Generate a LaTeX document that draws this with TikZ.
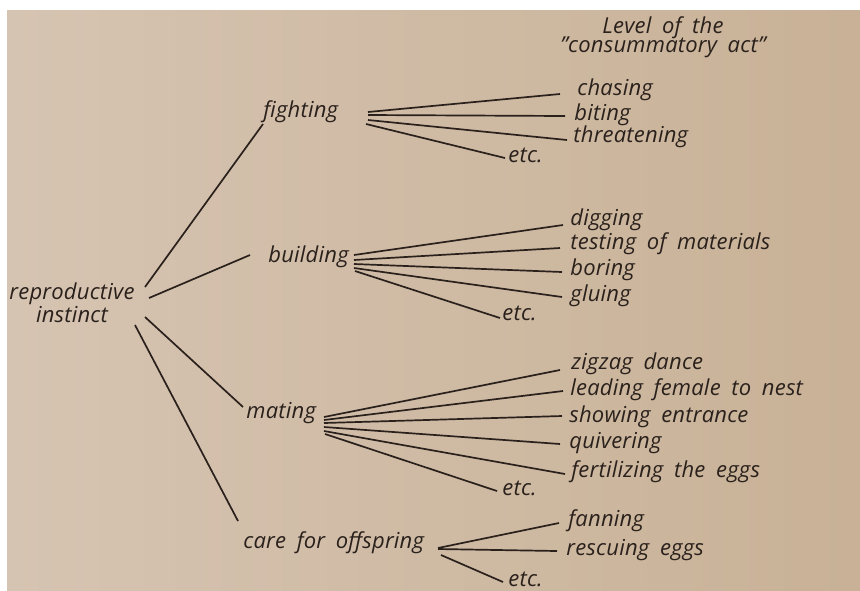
\documentclass[tikz,border=0pt]{standalone}
\usepackage{fontspec}
\setmainfont{Open Sans}[WordSpace=1.8,LetterSpace=1]
\usetikzlibrary{positioning,calc}
\definecolor{paperl}{RGB}{214,196,178}
\definecolor{paperr}{RGB}{200,177,150}
\definecolor{ink}{RGB}{42,33,28}
\tikzstyle{act}=[anchor=west,inner sep=0pt,text=ink,font=\itshape\fontsize{11}{11.5}\selectfont]
\tikzstyle{branch}=[draw=ink,line width=0.85pt]

\begin{document}
\begin{tikzpicture}[x=0.5pt,y=-0.5pt]
  \useasboundingbox (0,0) rectangle (860,590);
  \fill [white] (0,0) rectangle (860,590);
  \shade [left color=paperl,right color=paperr] (7,10) rectangle (860,590);

  % drives
  \node [act,align=center,anchor=center] at (72,303) (root) {reproductive\\instinct};
  \node [act] at (263,112) (fighting) {fighting};
  \node [act] at (268,257) (building) {building};
  \node [act] at (246,413) (mating) {mating};
  \node [act] at (243,543) (care) {care for offspring};

  \node [act,align=center,anchor=center] at (663,37) (level) {Level of the\\[-2pt]"consummatory act"};

  % consummatory acts
  \node [act] at (577,90) (chasing) {chasing};
  \node [act] at (574,115) (biting) {biting};
  \node [act] at (573,137) (threat) {threatening};
  \node [act] at (508,155) (fetc) {etc.};

  \node [act] at (570,220) (digging) {digging};
  \node [act] at (570,244) (testing) {testing of materials};
  \node [act] at (570,270) (boring) {boring};
  \node [act] at (570,296) (gluing) {gluing};
  \node [act] at (502,313) (betc) {etc.};

  \node [act] at (571,364) (zigzag) {zigzag dance};
  \node [act] at (570,390) (leading) {leading female to nest};
  \node [act] at (569,417) (showing) {showing entrance};
  \node [act] at (569,443) (quiver) {quivering};
  \node [act] at (571,472) (fertil) {fertilizing the eggs};
  \node [act] at (502,488) (metc) {etc.};

  \node [act] at (568,521) (fanning) {fanning};
  \node [act] at (566,550) (rescue) {rescuing eggs};
  \node [act] at (508,579) (cetc) {etc.};

  \coordinate (fhub) at (368,118);
  \coordinate (bhub) at (354,263);
  \coordinate (mhub) at (324,425);
  \coordinate (chub) at (438,548);

  \draw [branch] ($(root)+(73,-16)$) -- ($(fighting.west)+(0,12)$);
  \draw [branch] ($(root)+(77,-5)$) -- ($(building.west)+(-18,-2)$);
  \draw [branch] ($(root)+(73,14)$) -- ($(mating.west)+(-3,-6)$);
  \draw [branch] ($(root)+(63,22)$) -- ($(care.west)+(-5,-22)$);

  \draw [branch] ($(fhub)+(0,-6)$) -- ($(chasing.west)+(-17,4)$);
  \draw [branch] ($(fhub)+(0,-3)$) -- ($(biting.west)+(-9,1)$);
  \draw [branch] ($(fhub)+(0,2)$) -- ($(threat.west)+(-6,3)$);
  \draw [branch] ($(fhub)+(-2,6)$) -- ($(fetc.west)+(-3,3)$);

  \draw [branch] ($(bhub)+(0,-8)$) -- ($(digging.west)+(-7,5)$);
  \draw [branch] ($(bhub)+(0,-3)$) -- ($(testing.west)+(-10,4)$);
  \draw [branch] ($(bhub)+(0,1)$) -- ($(boring.west)+(-8,2)$);
  \draw [branch] ($(bhub)+(0,5)$) -- ($(gluing.west)+(-8,1)$);
  \draw [branch] ($(bhub)+(1,8)$) -- ($(betc.west)+(-2,5)$);

  \draw [branch] ($(mhub)+(0,-8)$) -- ($(zigzag.west)+(-11,6)$);
  \draw [branch] ($(mhub)+(0,-5)$) -- ($(leading.west)+(-7,1)$);
  \draw [branch] ($(mhub)+(0,-2)$) -- ($(showing.west)+(-7,-1)$);
  \draw [branch] ($(mhub)+(0,2)$) -- ($(quiver.west)+(-9,1)$);
  \draw [branch] ($(mhub)+(0,6)$) -- ($(fertil.west)+(-6,2)$);
  \draw [branch] ($(mhub)+(1,9)$) -- ($(metc.west)+(-5,3)$);

  \draw [branch] (chub) -- ($(fanning.west)+(-9,2)$);
  \draw [branch] ($(chub)+(0,1)$) -- ($(rescue.west)+(-9,1)$);
  \draw [branch] ($(chub)+(3,7)$) -- ($(cetc.west)+(-5,3)$);
\end{tikzpicture}
\end{document}
